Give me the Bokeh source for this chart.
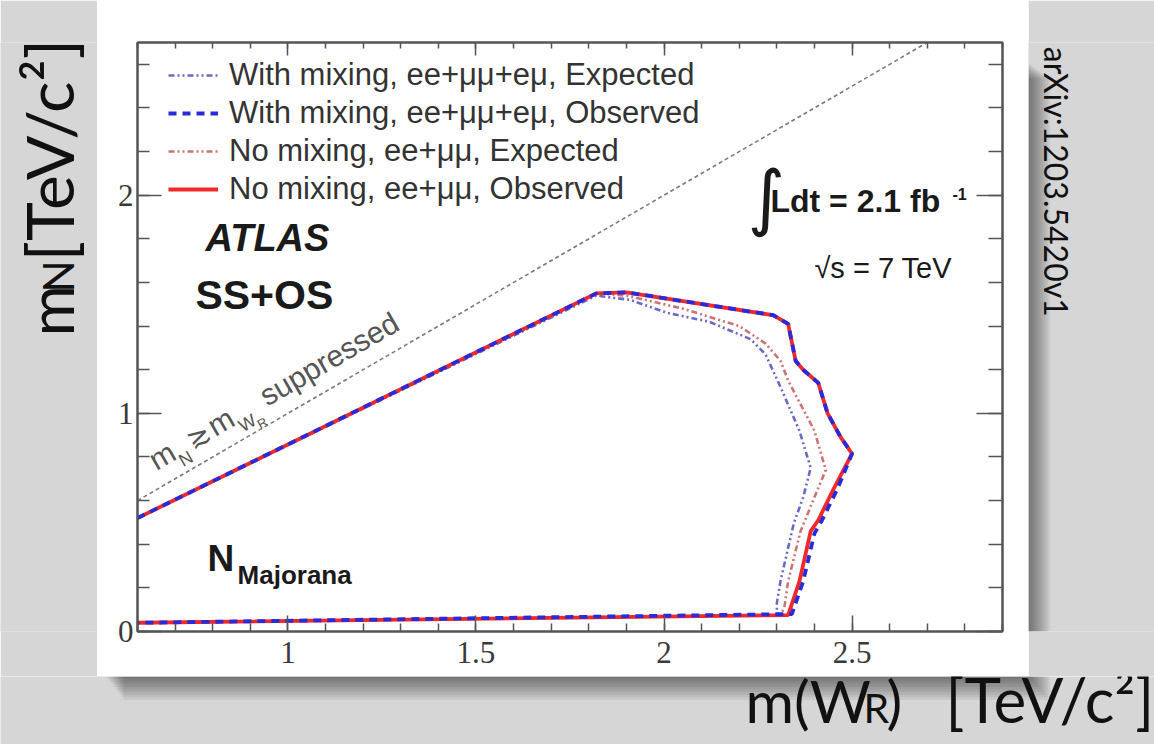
import math
from bokeh.plotting import figure
from bokeh.layouts import row, column
from bokeh.models import (Range1d, LinearAxis, SingleIntervalTicker, Label,
                          BoxAnnotation, Legend, LegendItem, CustomJSTickFormatter)
from bokeh.embed import file_html
from bokeh.resources import INLINE

# ---------------- data ----------------
# Observed limit, no mixing (ee+mumu)
obs_nomix_x = [0.60, 1.82, 1.90, 2.29, 2.33, 2.35, 2.37, 2.41, 2.435, 2.47, 2.50, 2.45, 2.41, 2.39, 2.36, 2.33, 0.60]
obs_nomix_y = [0.52, 1.55, 1.555, 1.45, 1.41, 1.24, 1.20, 1.14, 1.00, 0.89, 0.815, 0.65, 0.51, 0.46, 0.23, 0.075, 0.04]
# Observed limit, with mixing (ee+mumu+emu)
obs_mix_x = [0.60, 1.82, 1.90, 2.29, 2.33, 2.35, 2.37, 2.41, 2.435, 2.47, 2.50, 2.46, 2.42, 2.40, 2.37, 2.34, 0.60]
obs_mix_y = [0.52, 1.55, 1.555, 1.45, 1.41, 1.24, 1.20, 1.14, 1.00, 0.89, 0.815, 0.65, 0.51, 0.45, 0.23, 0.08, 0.04]
# Expected limit, with mixing
exp_mix_x = [0.60, 1.82, 1.91, 2.01, 2.12, 2.23, 2.27, 2.31, 2.36, 2.39, 2.37, 2.345, 2.31, 2.30, 2.30, 0.60]
exp_mix_y = [0.52, 1.54, 1.52, 1.46, 1.42, 1.34, 1.27, 1.12, 0.92, 0.75, 0.615, 0.495, 0.234, 0.13, 0.075, 0.04]
# Expected limit, no mixing
exp_nomix_x = [0.60, 1.82, 1.90, 2.05, 2.20, 2.27, 2.31, 2.33, 2.40, 2.43, 2.40, 2.363, 2.33, 2.32, 2.31, 0.60]
exp_nomix_y = [0.52, 1.55, 1.54, 1.48, 1.40, 1.32, 1.24, 1.15, 0.92, 0.74, 0.615, 0.46, 0.23, 0.11, 0.075, 0.04]
# kinematic boundary m_N = m_W
diag_x = [0.6, 2.7]
diag_y = [0.6, 2.7]

series_labels = ["With mixing, ee+\u03bc\u03bc+e\u03bc, Expected",
                 "With mixing, ee+\u03bc\u03bc+e\u03bc, Observed",
                 "No mixing, ee+\u03bc\u03bc, Expected",
                 "No mixing, ee+\u03bc\u03bc, Observed"]
x_tick_values = [1.0, 1.5, 2.0, 2.5]
x_tick_labels = ["1", "1.5", "2", "2.5"]
y_tick_values = [0.0, 1.0, 2.0]
y_tick_labels = ["0", "1", "2"]

# ---------------- geometry of the slide ----------------
BG = "#d6d6d6"
CARD_H, BOT_H = 676, 68
LEFT_W, CARD_W, RIGHT_W = 97, 931, 126
X0, X1, Y0, Y1 = 0.6, 2.9, 0.0, 2.7
ML, MR, MT, MB = 40, 26, 42, 45

def strip(w, h):
    f = figure(width=w, height=h, output_backend="svg", toolbar_location=None, title=None,
               x_range=Range1d(0, w), y_range=Range1d(h, 0),
               x_axis_location=None, y_axis_location=None,
               min_border=0, min_border_left=0, min_border_right=0,
               min_border_top=0, min_border_bottom=0,
               background_fill_color=BG, border_fill_color=BG, outline_line_color=None)
    f.xgrid.visible = False
    f.ygrid.visible = False
    return f

def clab(f, x, y, text, size, angle=0.0, font="Lato", color="#111111"):
    f.add_layout(Label(x=x, y=y, text=text, text_font=font, text_font_size=size,
                       text_color=color, angle=angle, text_align="left",
                       text_baseline="bottom"))

# ---------------- main chart (white card) ----------------
p = figure(width=CARD_W, height=CARD_H, output_backend="svg", toolbar_location=None,
           x_range=Range1d(X0, X1), y_range=Range1d(Y0, Y1),
           min_border_left=ML, min_border_right=MR, min_border_top=MT, min_border_bottom=MB,
           background_fill_color="white", border_fill_color="white")
p.outline_line_color = "#555555"
p.outline_line_width = 2
p.xgrid.visible = False
p.ygrid.visible = False

AX = "#555555"
def style_axis(ax, tin, tmin):
    ax.axis_line_color = AX
    ax.axis_line_width = 2
    ax.major_tick_line_color = AX
    ax.minor_tick_line_color = AX
    ax.major_tick_line_width = 1.5
    ax.minor_tick_line_width = 1.5
    ax.major_tick_out = 0
    ax.minor_tick_out = 0
    ax.major_tick_in = tin
    ax.minor_tick_in = tmin
    ax.major_label_text_font = "Liberation Serif"
    ax.major_label_text_color = "#3a3a3a"
    ax.major_label_text_font_size = "31px"

xb = p.xaxis[0]
xb.ticker = SingleIntervalTicker(interval=0.5, num_minor_ticks=5)
style_axis(xb, 16, 8)
xb.major_label_overrides = dict(zip(x_tick_values, x_tick_labels))
xb.major_label_standoff = 10

yl = p.yaxis[0]
yl.ticker = SingleIntervalTicker(interval=1, num_minor_ticks=5)
style_axis(yl, 24, 12)
yl.major_label_overrides = dict(zip(y_tick_values, y_tick_labels))
yl.major_label_standoff = 4

blank = CustomJSTickFormatter(code="return ''")
xt = LinearAxis(ticker=SingleIntervalTicker(interval=0.5, num_minor_ticks=5), formatter=blank)
style_axis(xt, 13, 6)
xt.major_label_standoff = 0
xt.major_label_text_font_size = "1px"
p.add_layout(xt, "above")
yr = LinearAxis(ticker=SingleIntervalTicker(interval=1, num_minor_ticks=5), formatter=blank)
style_axis(yr, 26, 14)
yr.major_label_standoff = 0
yr.major_label_text_font_size = "1px"
p.add_layout(yr, "right")

DD = "6 3 2 3 2 3"
p.line(diag_x, diag_y, line_color="#7a7a7a", line_width=1.6, line_dash="4 3")
r_exp_mix = p.line(exp_mix_x, exp_mix_y, line_color="#6a6ac6", line_width=2.6, line_dash=DD)
r_exp_nomix = p.line(exp_nomix_x, exp_nomix_y, line_color="#cc7474", line_width=2.6, line_dash=DD)
r_obs_nomix = p.line(obs_nomix_x, obs_nomix_y, line_color="#f02a2a", line_width=3.8)
r_obs_mix = p.line(obs_mix_x, obs_mix_y, line_color="#2a2ad8", line_width=3.8, line_dash="8 6")

fh = CARD_H - MT - MB
legend = Legend(items=[LegendItem(label=series_labels[0], renderers=[r_exp_mix]),
                       LegendItem(label=series_labels[1], renderers=[r_obs_mix]),
                       LegendItem(label=series_labels[2], renderers=[r_exp_nomix]),
                       LegendItem(label=series_labels[3], renderers=[r_obs_nomix])],
                location=(31, fh - 165),
                label_text_font="Liberation Sans", label_text_font_size="31px",
                label_text_color="#333333", glyph_width=50, glyph_height=20,
                label_height=20, spacing=2, padding=0, margin=0, label_standoff=11,
                border_line_color=None, background_fill_alpha=0.0)
p.add_layout(legend)

def lab(x, y, text, size, style="normal", font="Liberation Sans", color="#1a1a1a", **kw):
    p.add_layout(Label(x=x, y=y, text=text, text_font=font, text_font_size=size,
                       text_font_style=style, text_color=color,
                       text_baseline="bottom", **kw))

lab(0.781, 1.707, "ATLAS", "38px", "bold italic")
lab(0.754, 1.438, "SS+OS", "41px", "bold")
lab(0.786, 0.240, "N", "37px", "bold")
lab(0.866, 0.189, "Majorana", "26px", "bold")
lab(2.222, 1.797, "\u222b", "72px", "normal", font="DejaVu Sans")
lab(2.283, 1.890, "Ldt = 2.1 fb", "32px", "bold")
lab(2.767, 1.977, "-1", "16px", "bold")
lab(2.400, 1.595, "\u221as = 7 TeV", "29px", "normal")

# rotated annotation along the m_N = m_W line: (text, font px, perpendicular shift, position along line)
pxx = (CARD_W - ML - MR) / (X1 - X0)
pxy = fh / (Y1 - Y0)
th = math.atan2(pxy, pxx)
pieces = [("m", 30, 0.0, 0.0), ("N", 18, -8.0, 25.0), ("\u2273", 28, 0.0, 42.0),
          ("m", 30, 0.0, 68.0), ("W", 18, -8.0, 94.0), ("R", 13, -13.0, 111.0),
          ("suppressed", 30, 0.0, 128.0)]
for txt, fs, dp, s in pieces:
    pp = 10 + dp
    xx = 0.672 + (s * math.cos(th) - pp * math.sin(th)) / pxx
    yy = 0.672 + (s * math.sin(th) + pp * math.cos(th)) / pxy
    lab(xx, yy, txt, f"{fs}px", "normal", color="#555555", angle=th)

# ---------------- slide surroundings ----------------
left = strip(LEFT_W, CARD_H)
# y axis title  m_N [TeV/c^2]
clab(left, 86, 337, "m", "62px", angle=math.pi / 2)
clab(left, 82, 287, "N", "42px", angle=math.pi / 2)
clab(left, 87, 251, "[TeV/c\u00b2]", "66px", angle=math.pi / 2)

right = strip(RIGHT_W, CARD_H)
for k in range(1, 10):
    right.add_layout(BoxAnnotation(left=0, right=2.4 * k, top=23 + 2 * k, bottom=CARD_H,
                                   fill_color="black", fill_alpha=0.06, line_color=None))
clab(right, 8.6, 5, "arXiv:1203.5420v1", "32px", angle=-math.pi / 2)

bottom = strip(LEFT_W + CARD_W + RIGHT_W, BOT_H)
for k in range(1, 10):
    bottom.add_layout(BoxAnnotation(left=LEFT_W + 8 + 2 * k, right=LEFT_W + CARD_W + 2.4 * k,
                                    top=0, bottom=2.6 * k,
                                    fill_color="black", fill_alpha=0.06, line_color=None))
# x axis title  m(W_R) [TeV/c^2]   (local y = reference y - 676)
clab(bottom, 745, 59, "m(W", "59px")
clab(bottom, 863, 55, "R", "41px")
clab(bottom, 886, 59, ")", "59px")
clab(bottom, 945, 59, "[TeV/c\u00b2]", "62px")

layout = column(row(left, p, right), bottom)
open("out.html", "w").write(file_html(layout, INLINE))
